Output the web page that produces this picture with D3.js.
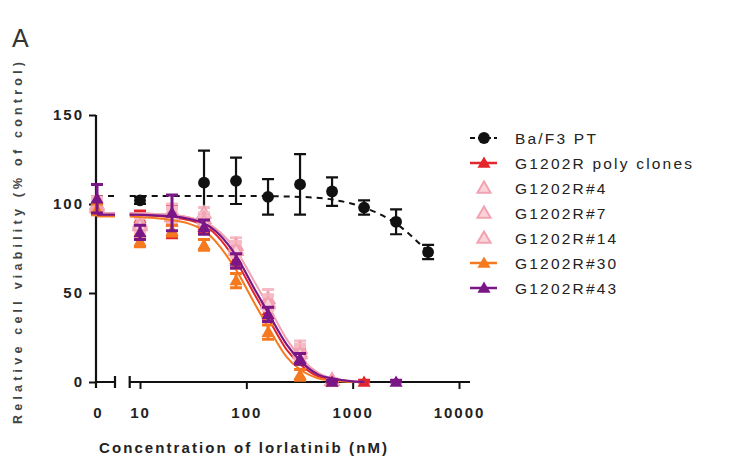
<!DOCTYPE html>
<html><head><meta charset="utf-8">
<script src="https://cdn.jsdelivr.net/npm/d3@7/dist/d3.min.js"></script>
<style>
body{margin:0;background:#fff;}
svg{display:block;font-family:Arial,"Liberation Sans",sans-serif;}
</style></head>
<body><svg id="c" width="745" height="462"></svg>
<script>
// ---------------- data ----------------
const conc = [0, 10, 20, 40, 80, 160, 320, 640, 1280, 2560, 5120];
const seriesNames = ["Ba/F3 PT", "G1202R poly clones", "G1202R#4", "G1202R#7", "G1202R#14", "G1202R#30", "G1202R#43"];
const seriesColors = ["#111111", "#e3262b", "#f2a3b1", "#f2a3b1", "#f2a3b1", "#f57a1f", "#7a1685"];
const baf3Mean  = [100, 102, null, 112, 113, 104, 111, 107, 98, 90, 73];
const baf3Sd    = [3, 2, null, 18, 13, 10, 17, 8, 4, 7, 4];
const polyMean  = [100, 92, 90, 88, 69, 40, 14, 1, 0, null, null];
const polySd    = [4, 4, 9, 4, 5, 4, 4, 1, 1, null, null];
const g4Mean    = [100, 89, 96, 95, 77, 47, 19, 1, null, null, null];
const g4Sd      = [4, 4, 4, 3, 4, 5, 4, 1, null, null, null];
const g7Mean    = [99, 90, 94, 92, 75, 45, 17, 1, null, null, null];
const g7Sd      = [4, 4, 4, 3, 4, 4, 4, 1, null, null, null];
const g14Mean   = [98, 88, 93, 90, 74, 44, 16, 1, null, null, null];
const g14Sd     = [4, 4, 4, 3, 4, 4, 4, 1, null, null, null];
const g30Mean   = [97, 79, 85, 77, 57, 28, 4, 0, null, null, null];
const g30Sd     = [3, 3, 3, 3, 4, 4, 3, 1, null, null, null];
const g43Mean   = [103, 84, 95, 87, 68, 38, 13, 0, null, 0, null];
const g43Sd     = [8, 4, 10, 4, 4, 4, 3, 1, null, 1, null];
// fitted curves: [concentration, value]
const baf3Fit = [[8,104.5],[100,104.5],[320,104],[640,102.5],[1280,98],[2560,89],[5120,73]];
const polyFit = [[8,94],[20,92.5],[40,88],[80,68],[120,49],[160,36],[240,18],[320,10],[480,3],[640,1.5],[1000,0.2],[1300,0]];
const pinkFit = [[8,95],[20,94],[40,90],[80,74],[120,56],[160,43],[240,24],[320,14],[480,5],[640,2],[1000,0.4],[1300,0]];
const g30Fit  = [[8,93],[20,91],[40,85],[80,63],[120,44],[160,31],[240,14],[320,7],[480,2],[640,0.8],[1000,0]];
const g43Fit  = [[8,94],[20,93],[40,89],[80,71],[120,52],[160,39],[240,21],[320,12],[480,4],[640,2],[1000,0.3],[1300,0]];
const yTicks = [0, 50, 100, 150];
const xTicks = [10, 100, 1000, 10000];
const xTickLabels = ["10", "100", "1000", "10000"];

// ---------------- drawing ----------------
const svg = d3.select("#c");
const y = d3.scaleLinear().domain([0,150]).range([382,115]);
const x = d3.scaleLog().domain([10,10000]).range([140,459]);
const xZero = d3.scalePoint().domain([0]).range([97,97]);
const xPos = c => c === 0 ? xZero(0) : x(c);
const FONT = "Arial,'Liberation Sans',sans-serif";

// panel letter
svg.append("text").attr("x",12).attr("y",47).attr("font-size",25).attr("fill","#333").text("A");

// y axis
const yAxisG = svg.append("g").attr("transform","translate(96,0)")
  .call(d3.axisLeft(y).tickValues(yTicks).tickSize(7).tickPadding(5));
yAxisG.select(".domain").attr("d", `M0,${y(0)+6}V${y(150)}`).attr("stroke","#111").attr("stroke-width",2.2);
yAxisG.selectAll(".tick line").attr("stroke","#111").attr("stroke-width",2);
yAxisG.selectAll(".tick text").attr("font-size",15).attr("font-weight","bold").attr("fill","#222")
  .attr("letter-spacing","2px").attr("font-family",FONT);

// x axis: broken
const axY = y(0);
const ax = svg.append("g").attr("stroke","#111").attr("stroke-width",2.2).attr("fill","none");
ax.append("path").attr("d", `M96,${axY}H115M115,${axY-6}V${axY+6}`);
ax.append("path").attr("d", `M${x(8)},${axY-6}V${axY+6}M${x(8)},${axY}H${x(12700)}`);
const xAxisG = svg.append("g").attr("transform",`translate(0,${axY})`)
  .call(d3.axisBottom(x).tickValues(xTicks).tickFormat((d,i)=>xTickLabels[i]).tickSize(7).tickPadding(18));
xAxisG.select(".domain").remove();
xAxisG.selectAll(".tick line").attr("stroke","#111").attr("stroke-width",2);
xAxisG.selectAll(".tick text").attr("font-size",15).attr("font-weight","bold").attr("fill","#222")
  .attr("letter-spacing","2px").attr("font-family",FONT);
const zeroAxis = svg.append("g").attr("transform",`translate(0,${axY})`)
  .call(d3.axisBottom(xZero).tickValues([0]).tickSize(0).tickPadding(25));
zeroAxis.select(".domain").remove();
zeroAxis.selectAll(".tick text").attr("font-size",15).attr("font-weight","bold").attr("fill","#222")
  .attr("font-family",FONT);

// axis titles
svg.append("text").attr("x",243).attr("y",453).attr("text-anchor","middle")
  .attr("font-size",15).attr("font-weight","bold").attr("fill","#222")
  .attr("textLength",288).attr("lengthAdjust","spacing")
  .text("Concentration of lorlatinib (nM)");
svg.append("text").attr("transform","translate(22,243) rotate(-90)").attr("text-anchor","middle")
  .attr("font-size",12.5).attr("font-weight","bold").attr("fill","#444")
  .attr("textLength",362).attr("lengthAdjust","spacing")
  .text("Relative cell viability (% of control)");

// series
const series = [
  {name:seriesNames[0], color:seriesColors[0], mean:baf3Mean, sd:baf3Sd, fit:baf3Fit, sym:"circle", dash:"6,5", lw:2, top:104.5},
  {name:seriesNames[1], color:seriesColors[1], mean:polyMean, sd:polySd, fit:polyFit, sym:"tri", lw:2, top:94},
  {name:seriesNames[2], color:seriesColors[2], mean:g4Mean, sd:g4Sd, fit:pinkFit, sym:"open", lw:1.5, top:95},
  {name:seriesNames[3], color:seriesColors[3], mean:g7Mean, sd:g7Sd, fit:pinkFit, sym:"open", lw:1.5, top:95},
  {name:seriesNames[4], color:seriesColors[4], mean:g14Mean, sd:g14Sd, fit:pinkFit, sym:"open", lw:1.5, top:95},
  {name:seriesNames[5], color:seriesColors[5], mean:g30Mean, sd:g30Sd, fit:g30Fit, sym:"tri", lw:2, top:93},
  {name:seriesNames[6], color:seriesColors[6], mean:g43Mean, sd:g43Sd, fit:g43Fit, sym:"tri", lw:2.2, top:94}
];
const lineGen = d3.line().x(d=>x(d[0])).y(d=>y(d[1])).curve(d3.curveMonotoneX);
const triPath = d3.symbol().type(d3.symbolTriangle).size(75)();
const circPath = d3.symbol().type(d3.symbolCircle).size(110)();

function drawMarker(g, s, cx, cy) {
  if (s.sym === "circle") {
    g.append("path").attr("d",circPath).attr("transform",`translate(${cx},${cy})`).attr("fill",s.color);
  } else if (s.sym === "open") {
    g.append("path").attr("d",triPath).attr("transform",`translate(${cx},${cy+1})`)
      .attr("fill","#fad3da").attr("stroke",s.color).attr("stroke-width",2);
  } else {
    g.append("path").attr("d",triPath).attr("transform",`translate(${cx},${cy+1})`).attr("fill",s.color);
  }
}

series.forEach(s => {
  const g = svg.append("g");
  g.append("path").attr("d",lineGen(s.fit)).attr("fill","none").attr("stroke",s.color)
    .attr("stroke-width",s.lw).attr("stroke-dasharray",s.dash||null);
  g.append("path").attr("d",`M${xPos(0)},${y(s.top)}H115`).attr("fill","none").attr("stroke",s.color)
    .attr("stroke-width",s.lw).attr("stroke-dasharray",s.dash||null);
  conc.forEach((c,i) => {
    const m = s.mean[i];
    if (m === null || m === undefined) return;
    const cx = xPos(c), sd = s.sd[i] || 0;
    const eb = g.append("path").attr("fill","none").attr("stroke",s.color).attr("stroke-width",s.sym==="circle"?2.2:3)
      .attr("d",`M${cx},${y(m+sd)}V${y(Math.max(0,m-sd))}M${cx-6},${y(m+sd)}H${cx+6}M${cx-6},${y(Math.max(0,m-sd))}H${cx+6}`);
    if (s.sym==="open") eb.attr("stroke","#f6bcc6");
    drawMarker(g, s, cx, y(m));
  });
});

// legend
const lg = svg.append("g");
series.forEach((s,i) => {
  const ly = 138 + i*25;
  const row = lg.append("g");
  if (s.sym !== "open") {
    row.append("path").attr("d",`M470,${ly}H497`).attr("stroke",s.color).attr("stroke-width",s.sym==="circle"?2:2.5)
      .attr("stroke-dasharray",s.sym==="circle"?"5,3":null).attr("fill","none");
  }
  drawMarker(row, s, 484, ly);
  row.append("text").attr("x",515).attr("y",ly+5.5).attr("font-size",15.5).attr("fill","#222")
    .attr("letter-spacing","2.2px").text(s.name);
});
</script></body></html>
